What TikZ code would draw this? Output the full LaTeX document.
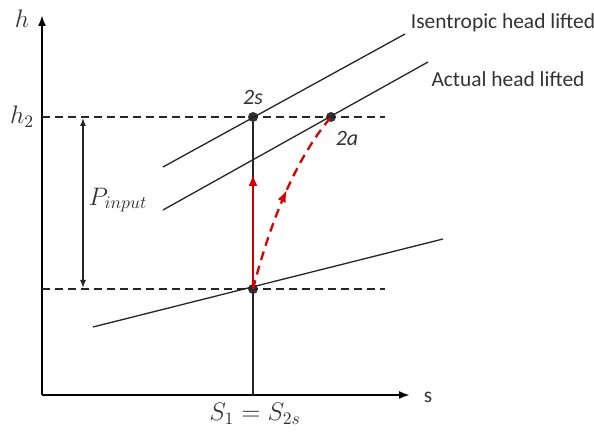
\documentclass[tikz,border=0pt]{standalone}
\usepackage{fontspec}
\newfontfamily\labelfont{Carlito}
\usepackage{tikz}
\usetikzlibrary{arrows.meta, positioning, decorations.markings}
\usepackage{amsmath}

\begin{document}
\begin{tikzpicture}[
  x=0.02cm, y=0.02cm,
  every node/.style={text=black!80},
  axis/.style={line width=1.1pt, -{Latex[length=2.2mm, width=1.6mm]}},
  curve/.style={line width=0.75pt, black!85},
  guide/.style={line width=0.75pt, black!85, dash pattern=on 0.16cm off 0.1cm},
  state/.style={circle, fill=black!80, inner sep=0pt, minimum size=0.2cm},
  ideal/.style={line width=1.5pt, red!80!black, -{Latex[length=2.4mm, width=1.8mm]}},
  real/.style={line width=1.3pt, red!85!black, dash pattern=on 0.18cm off 0.12cm,
               postaction={decorate}, decoration={markings,
               mark=at position 0.55 with {\arrow{Latex[length=2.4mm, width=1.8mm]}}}},
  curvelabel/.style={font=\labelfont\fontsize{12.2}{14}\selectfont},
  pointlabel/.style={font=\labelfont\itshape\fontsize{12.5}{14}\selectfont},
]
\useasboundingbox (0,0) rectangle (594,432);

% Axes
\coordinate (O) at (42,37);
\coordinate (htop) at (42,417);
\coordinate (sright) at (410,37);
\draw[axis] (O) -- (htop);
\draw[axis] (O) -- (sright);
\node[font=\Large] (hlab) at (22,413) {$h$};
\node[curvelabel] (slab) at (428,35) {s};

% States
\node[state] (p1) at (253,143) {};
\node[state] (p2s) at (253,315) {};
\node[state] (p2a) at (331,315) {};
\coordinate (foot) at (253,37);
\node[pointlabel] (l2s) at (253,335) {2s};
\node[pointlabel] (l2a) at (347,294) {2a};
\node[font=\Large] (slabel) at (255,18) {$S_1 = S_{2s}$};

% Enthalpy levels
\coordinate (h2left) at (42,315);
\coordinate (h2right) at (385,315);
\coordinate (h1left) at (42,143);
\coordinate (h1right) at (385,143);
\draw[guide] (h2left) -- (h2right);
\draw[guide] (h1left) -- (h1right);
\node[font=\Large] (h2lab) at (22,315) {$h_2$};

% Isobars
\coordinate (isA) at (163,265);
\coordinate (isB) at (405,398);
\coordinate (acA) at (163,222);
\coordinate (acB) at (428,370);
\coordinate (loA) at (93,105);
\coordinate (loB) at (443,193);
\draw[curve] (isA) -- (isB);
\draw[curve] (acA) -- (acB);
\draw[curve] (loA) -- (loB);
\node[curvelabel] (isolab) at (503,409) {Isentropic head lifted};
\node[curvelabel] (actlab) at (508,353) {Actual head lifted};

% Vertical line 1-2s
\draw[curve] (foot) -- (p2s);

% Power input
\coordinate (pin1) at (83,144);
\coordinate (pin2) at (83,314);
\draw[line width=0.75pt, black!85, {Latex[length=1.6mm, width=1.2mm]}-{Latex[length=1.6mm, width=1.2mm]}] (pin1) -- (pin2);
\node[font=\Large] (pinlab) at (118,232) {$P_{input}$};

% Compression paths
\coordinate (redtip) at (253,258);
\draw[ideal] (p1.center) -- (redtip);
\draw[real] (p1.center) .. controls (273,220) and (299,277) .. (p2a.center);

\end{tikzpicture}
\end{document}
